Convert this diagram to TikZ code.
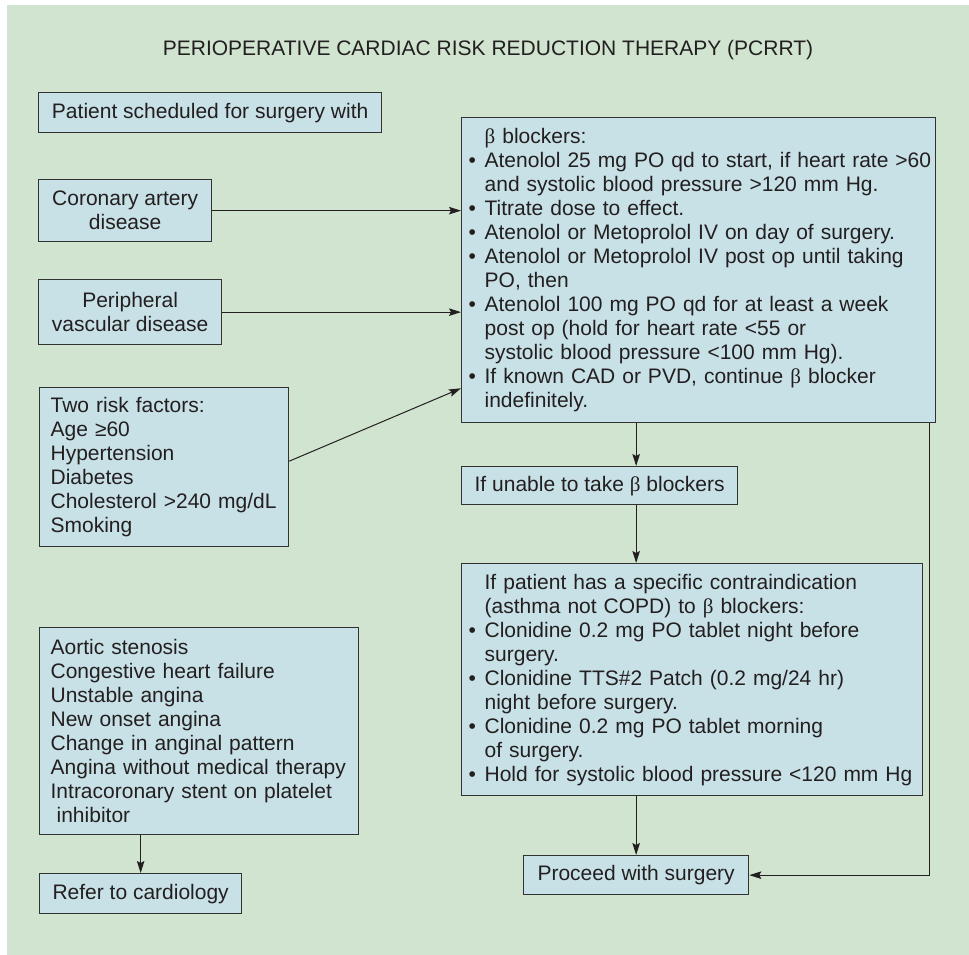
\documentclass[tikz,border=0pt]{standalone}
\usepackage{fontspec}
\setmainfont{Liberation Sans}
\newfontfamily\greekfont{Liberation Serif}
\usetikzlibrary{arrows.meta,calc}
\definecolor{panegreen}{RGB}{208,228,208}
\definecolor{boxblue}{RGB}{200,225,230}
\definecolor{edgegray}{RGB}{50,50,50}
\definecolor{inkgray}{RGB}{35,31,32}
\newcommand{\bet}{{\greekfont β}}
\newcommand{\bul}{\makebox[16pt][l]{•}}
\newcommand{\hang}{\hspace*{16pt}}

\begin{document}
\begin{tikzpicture}[x=1pt,y=-1pt,
  font=\fontsize{21}{24}\selectfont,
  flowbox/.style={draw=edgegray,line width=1.3pt,fill=boxblue,text=inkgray,
    anchor=north west,inner ysep=2pt,inner xsep=0pt,align=center},
  listbox/.style={flowbox,align=left,inner xsep=7pt},
  link/.style={draw=inkgray,line width=1pt,-{Stealth[length=12pt,width=7.5pt,inset=2pt]}}]
\useasboundingbox (0,0) rectangle (969,955);
\fill[panegreen] (7,5) rectangle (969,955);

\node[text=inkgray] (title) at (488,50) {PERIOPERATIVE CARDIAC RISK REDUCTION THERAPY (PCRRT)};

\node[flowbox,minimum width=343pt,minimum height=40pt] (start) at (38,92) {Patient scheduled for surgery with};
\node[flowbox,minimum width=173pt,minimum height=62pt] (cad) at (38,179) {Coronary artery\\disease};
\node[flowbox,minimum width=183pt,minimum height=65pt] (pvd) at (38,279) {Peripheral\\vascular disease};
\node[listbox,inner xsep=11pt,text width=227pt,minimum height=159pt] (risk) at (39,387) {
  Two risk factors:\\Age ≥60\\Hypertension\\Diabetes\\Cholesterol >240 mg/dL\\Smoking};

\node[listbox,text width=460pt,minimum height=305pt] (beta) at (461,117) {
  \hang\bet{} blockers:\\
  \mbox{\bul Atenolol 25 mg PO qd to start, if heart rate >60}\\
  \hang and systolic blood pressure >120 mm Hg.\\
  \bul Titrate dose to effect.\\
  \bul Atenolol or Metoprolol IV on day of surgery.\\
  \bul Atenolol or Metoprolol IV post op until taking\\
  \hang PO, then\\
  \bul Atenolol 100 mg PO qd for at least a week\\
  \hang post op (hold for heart rate <55 or\\
  \hang systolic blood pressure <100 mm Hg).\\
  \bul If known CAD or PVD, continue \bet{} blocker\\
  \hang indefinitely.};
\node[flowbox,minimum width=276pt,minimum height=38pt] (unable) at (461,466) {If unable to take \bet{} blockers};
\node[listbox,text width=447pt,minimum height=232pt] (contra) at (461,563) {
  \hang If patient has a specific contraindication\\
  \hang (asthma not COPD) to \bet{} blockers:\\
  \bul Clonidine 0.2 mg PO tablet night before\\
  \hang surgery.\\
  \bul Clonidine TTS\#2 Patch (0.2 mg/24 hr)\\
  \hang night before surgery.\\
  \bul Clonidine 0.2 mg PO tablet morning\\
  \hang of surgery.\\
  \mbox{\bul Hold for systolic blood pressure <120 mm Hg}};
\node[flowbox,minimum width=225pt,minimum height=39pt] (proceed) at (523,855) {Proceed with surgery};

\node[listbox,inner xsep=11pt,text width=297pt,minimum height=207pt] (aortic) at (39,627) {
  Aortic stenosis\\Congestive heart failure\\Unstable angina\\New onset angina\\
  Change in anginal pattern\\Angina without medical therapy\\
  Intracoronary stent on platelet\\\hspace*{6pt}inhibitor};
\node[flowbox,minimum width=202pt,minimum height=40pt] (refer) at (39,873) {Refer to cardiology};

\draw[link] (cad.east) -- (cad.east -| beta.west);
\draw[link] (pvd.east) -- (pvd.east -| beta.west);
\draw[link] ($(risk.east)+(0,-6)$) -- ($(beta.south west)+(0,-35)$);
\draw[link] (beta.south -| proceed.north) -- (unable.north -| proceed.north);
\draw[link] (unable.south -| proceed.north) -- (contra.north -| proceed.north);
\draw[link] (contra.south -| proceed.north) -- (proceed.north);
\draw[link] ($(beta.south east)+(-7,0)$) |- (proceed.east);
\draw[link] (aortic.south -| refer.north) -- (refer.north);
\end{tikzpicture}
\end{document}
